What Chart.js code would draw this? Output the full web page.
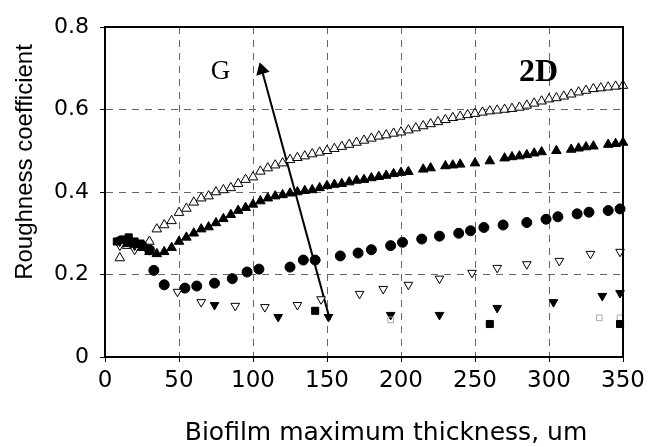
<!DOCTYPE html>
<html>
<head>
<meta charset="utf-8">
<script src="https://cdn.jsdelivr.net/npm/chart.js@4.4.0/dist/chart.umd.min.js"></script>
<style>
  html, body { margin: 0; padding: 0; background: #fff; }
  #wrap { width: 655px; height: 447px; position: relative; }
</style>
</head>
<body>
<div id="wrap"><canvas id="roughChart"></canvas></div>
<script>
// tick labels
const xTicks = [0, 50, 100, 150, 200, 250, 300, 350];
const yTicks = [0, 0.2, 0.4, 0.6, 0.8];
const xTitle = 'Biofilm maximum thickness, um';
const yTitle = 'Roughness coefficient';

// open triangles (top curve)
const openUpX = [10, 15, 20, 25, 30, 35, 40, 45, 50, 55, 60, 65, 70, 75, 80, 85, 90, 95, 100, 105, 110, 115, 120, 125, 130, 135, 140, 145, 150, 155, 160, 165, 170, 175, 180, 185, 190, 195, 200, 205, 210, 215, 220, 225, 230, 235, 240, 245, 250, 255, 260, 265, 270, 275, 280, 285, 290, 295, 300, 305, 310, 315, 320, 325, 330, 335, 340, 345, 350];
const openUpY = [0.24, 0.27, 0.27, 0.27, 0.28, 0.31, 0.32, 0.33, 0.35, 0.36, 0.375, 0.385, 0.39, 0.40, 0.405, 0.41, 0.42, 0.43, 0.436, 0.45, 0.458, 0.465, 0.47, 0.478, 0.483, 0.487, 0.492, 0.496, 0.50, 0.505, 0.51, 0.515, 0.52, 0.525, 0.53, 0.535, 0.538, 0.542, 0.545, 0.55, 0.555, 0.56, 0.565, 0.57, 0.575, 0.58, 0.583, 0.587, 0.59, 0.593, 0.596, 0.598, 0.60, 0.602, 0.605, 0.61, 0.615, 0.62, 0.625, 0.628, 0.632, 0.637, 0.642, 0.646, 0.65, 0.652, 0.654, 0.656, 0.658];

// filled triangles
const fillUpX = [10, 15, 20, 25, 30, 35, 40, 45, 50, 55, 60, 65, 70, 75, 80, 85, 90, 95, 100, 105, 110, 115, 120, 125, 130, 135, 140, 145, 150, 155, 160, 165, 170, 175, 180, 185, 190, 195, 200, 205, 215, 220, 230, 235, 240, 250, 260, 270, 275, 280, 285, 290, 295, 305, 315, 320, 325, 330, 340, 345, 350];
const fillUpY = [0.28, 0.275, 0.27, 0.265, 0.255, 0.25, 0.255, 0.265, 0.28, 0.29, 0.30, 0.31, 0.315, 0.325, 0.335, 0.345, 0.355, 0.362, 0.37, 0.378, 0.385, 0.39, 0.393, 0.397, 0.40, 0.403, 0.405, 0.41, 0.415, 0.418, 0.42, 0.424, 0.428, 0.43, 0.434, 0.437, 0.44, 0.444, 0.447, 0.449, 0.455, 0.458, 0.463, 0.465, 0.467, 0.47, 0.475, 0.482, 0.485, 0.487, 0.49, 0.494, 0.497, 0.50, 0.503, 0.506, 0.509, 0.511, 0.515, 0.517, 0.52];

// filled circles
const circleX = [10, 15, 20, 25, 30, 33, 40, 54, 62, 74, 86, 96, 104, 125, 134, 142, 159, 171, 180, 193, 201, 214, 226, 239, 247, 256, 269, 285, 298, 306, 319, 327, 340, 348];
const circleY = [0.28, 0.28, 0.27, 0.27, 0.26, 0.21, 0.175, 0.167, 0.172, 0.179, 0.19, 0.206, 0.213, 0.218, 0.235, 0.235, 0.245, 0.252, 0.26, 0.27, 0.278, 0.286, 0.293, 0.30, 0.306, 0.314, 0.32, 0.326, 0.334, 0.34, 0.347, 0.351, 0.355, 0.359];

// open triangles pointing down
const openDownX = [10, 20, 30, 49, 65, 88, 108, 130, 146, 172, 188, 205, 226, 248, 265, 285, 307, 328, 348];
const openDownY = [0.27, 0.26, 0.26, 0.158, 0.133, 0.124, 0.121, 0.126, 0.14, 0.153, 0.165, 0.175, 0.19, 0.204, 0.216, 0.225, 0.233, 0.25, 0.255];

// filled triangles pointing down
const fillDownX = [10, 20, 30, 74, 117, 151, 193, 226, 265, 303, 336, 348];
const fillDownY = [0.28, 0.27, 0.26, 0.126, 0.097, 0.097, 0.102, 0.102, 0.119, 0.133, 0.148, 0.155];

// filled squares
const squareX = [8, 12, 16, 20, 24, 142, 260, 348];
const squareY = [0.28, 0.285, 0.29, 0.28, 0.275, 0.112, 0.08, 0.08];

// faint open squares
const openSqX = [193, 334, 348];
const openSqY = [0.09, 0.095, 0.095];

// arrow "G" (tail, head)
const arrowX = [152, 106];
const arrowY = [0.09, 0.696];

const pts = (xs, ys) => xs.map((x, i) => ({x: x, y: ys[i]}));

const marker = (xs, ys, style, fill, extra) => Object.assign({
  data: pts(xs, ys),
  pointStyle: style,
  pointRadius: 5,
  pointBackgroundColor: fill,
  pointBorderColor: '#000',
  pointBorderWidth: 1,
  showLine: false,
  clip: false
}, extra || {});

const frame = {
  id: 'frame',
  afterDatasetsDraw(chart) {
    const {ctx, chartArea: a, scales} = chart;
    ctx.save();
    ctx.strokeStyle = '#000';
    ctx.lineWidth = 2;
    ctx.strokeRect(a.left, a.top, a.right - a.left, a.bottom - a.top);
    ctx.fillStyle = '#000';
    ctx.textAlign = 'center';
    ctx.textBaseline = 'middle';
    // annotations
    ctx.font = '27px "Liberation Serif", serif';
    ctx.fillText('G', scales.x.getPixelForValue(78), scales.y.getPixelForValue(0.69));
    ctx.font = 'bold 32px "Liberation Serif", serif';
    ctx.fillText('2D', scales.x.getPixelForValue(293), scales.y.getPixelForValue(0.688));
    // axis titles
    ctx.font = '25px "DejaVu Sans", sans-serif';
    ctx.fillText(xTitle, 386, 433);
    ctx.translate(25, 162);
    ctx.rotate(-Math.PI / 2);
    ctx.font = '24px "Liberation Sans", Arial';
    ctx.fillText(yTitle, 0, 0);
    ctx.restore();
  }
};

new Chart(document.getElementById('roughChart'), {
  type: 'scatter',
  data: {
    datasets: [
      marker(squareX, squareY, 'rect', '#000', {pointRadius: 5}),
      marker(openSqX, openSqY, 'rect', 'rgba(0,0,0,0)', {pointBorderColor: '#aaa', pointRadius: 4}),
      marker(fillDownX, fillDownY, 'triangle', '#000', {rotation: 180}),
      marker(openDownX, openDownY, 'triangle', '#fff', {rotation: 180, pointRadius: 5}),
      marker(circleX, circleY, 'circle', '#000', {pointRadius: 5}),
      marker(fillUpX, fillUpY, 'triangle', '#000', {pointRadius: 5.5}),
      marker(openUpX, openUpY, 'triangle', '#fff', {pointRadius: 5.5}),
      {
        type: 'line',
        data: pts(arrowX, arrowY),
        showLine: true,
        borderColor: '#000',
        borderWidth: 2,
        pointRadius: [0, 6],
        pointStyle: 'triangle',
        rotation: -16,
        pointBackgroundColor: '#000',
        pointBorderColor: '#000',
        clip: false
      }
    ]
  },
  options: {
    responsive: true,
    maintainAspectRatio: false,
    animation: false,
    devicePixelRatio: 1,
    layout: {padding: {top: 27, right: 32, left: 0, bottom: 0}},
    plugins: {legend: {display: false}, tooltip: {enabled: false}},
    scales: {
      x: {
        type: 'linear',
        min: 0,
        max: 350,
        afterBuildTicks: s => { s.ticks = xTicks.map(v => ({value: v})); },
        afterFit: s => { s.height = 90; },
        grid: {color: '#666', tickColor: '#000', tickLength: 5},
        border: {color: '#000', width: 2, dash: [7, 6]},
        ticks: {color: '#000', font: {family: '"DejaVu Sans", sans-serif', size: 23}, padding: 5, maxRotation: 0},
        title: {display: false}
      },
      y: {
        type: 'linear',
        min: 0,
        max: 0.8,
        afterBuildTicks: s => { s.ticks = yTicks.map(v => ({value: v})); },
        afterFit: s => { s.width = 105; },
        grid: {color: '#666', tickColor: '#000', tickLength: 5},
        border: {color: '#000', width: 2, dash: [7, 6]},
        ticks: {color: '#000', font: {family: '"DejaVu Sans", sans-serif', size: 22}, padding: 11,
                callback: v => v === 0 ? '0' : v.toFixed(1)},
        title: {display: false}
      }
    }
  },
  plugins: [frame]
});
</script>
</body>
</html>
